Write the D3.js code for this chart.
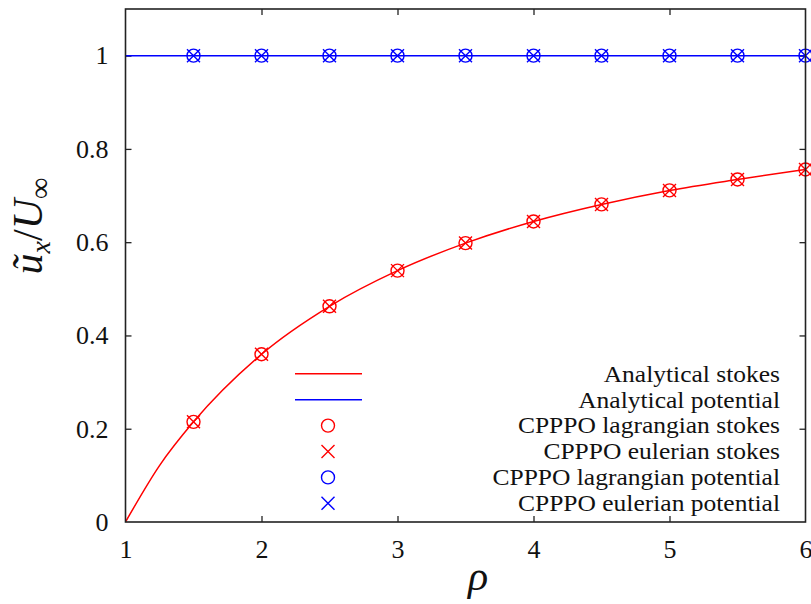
<!DOCTYPE html>
<html><head><meta charset="utf-8">
<script src="https://cdn.jsdelivr.net/npm/d3@7"></script>
<style>body{margin:0;background:#fff}svg{display:block}</style>
</head><body>
<script>
// ---- data ----
const curveRho = [1, 1.25, 1.5, 2, 2.5, 3, 3.5, 4, 4.5, 5, 5.5, 6];
const curveStokes = [0, 0.121, 0.2148, 0.3597, 0.4625, 0.539, 0.598, 0.6445, 0.681, 0.711, 0.7345, 0.756];
const potentialRho = [1, 6];
const potentialVal = [1, 1];
const markerRho = [1.5, 2, 2.5, 3, 3.5, 4, 4.5, 5, 5.5, 6];
const lagStokes = [0.2148, 0.3597, 0.4625, 0.539, 0.598, 0.6445, 0.681, 0.711, 0.7345, 0.756];
const eulStokes = [0.2148, 0.3597, 0.4625, 0.539, 0.598, 0.6445, 0.681, 0.711, 0.7345, 0.756];
const lagPot = [1, 1, 1, 1, 1, 1, 1, 1, 1, 1];
const eulPot = [1, 1, 1, 1, 1, 1, 1, 1, 1, 1];
const xTicks = [1, 2, 3, 4, 5, 6];
const yTicks = [0, 0.2, 0.4, 0.6, 0.8, 1];
const yTickLabels = ["0", "0.2", "0.4", "0.6", "0.8", "1"];
const legendLabels = ["Analytical stokes", "Analytical potential", "CPPPO lagrangian stokes",
  "CPPPO eulerian stokes", "CPPPO lagrangian potential", "CPPPO eulerian potential"];

// ---- layout ----
const W = 811, H = 604;
const L = 125.5, R = 805.5, T = 9, B = 522;
const RED = "#ff0000", BLUE = "#0000ff";
const FONT = "'Liberation Serif', 'Times New Roman', serif";

const svg = d3.select("body").append("svg").attr("width", W).attr("height", H);
const x = d3.scaleLinear().domain([1, 6]).range([L, R]);
const y = d3.scaleLinear().domain([0, 1.1]).range([B, T]);

// axes with inward ticks on all sides
const tl = 6;
const gB = svg.append("g").attr("transform", `translate(0,${B})`)
  .call(d3.axisBottom(x).tickValues(xTicks).tickSize(-tl).tickPadding(tl + 12).tickFormat(d3.format("d")));
const gT = svg.append("g").attr("transform", `translate(0,${T})`)
  .call(d3.axisTop(x).tickValues(xTicks).tickSize(-tl).tickFormat(""));
const gL = svg.append("g").attr("transform", `translate(${L},0)`)
  .call(d3.axisLeft(y).tickValues(yTicks).tickSize(-tl).tickPadding(tl + 11).tickFormat((d, i) => yTickLabels[i]));
const gR = svg.append("g").attr("transform", `translate(${R},0)`)
  .call(d3.axisRight(y).tickValues(yTicks).tickSize(-tl).tickFormat(""));
[gB, gT, gL, gR].forEach(g => {
  g.select(".domain").remove();
  g.selectAll(".tick line").attr("stroke", "#222").attr("stroke-width", 1.3);
  g.selectAll("text").attr("font-family", FONT).attr("font-size", 26).attr("fill", "#111");
});
gB.selectAll(".tick").filter(d => d === 1 || d === 6).select("line").remove();
gT.selectAll(".tick").filter(d => d === 1 || d === 6).select("line").remove();
gL.selectAll(".tick").filter(d => d === 0).select("line").remove();
gR.selectAll(".tick").filter(d => d === 0).select("line").remove();

// clip
svg.append("clipPath").attr("id", "clip").append("rect")
  .attr("x", L).attr("y", T).attr("width", R - L).attr("height", B - T);
const plot = svg.append("g").attr("clip-path", "url(#clip)");

// lines
const line = d3.line().x(d => x(d[0])).y(d => y(d[1]));
plot.append("path").datum(d3.zip(curveRho, curveStokes))
  .attr("d", line.curve(d3.curveMonotoneX)).attr("fill", "none").attr("stroke", RED).attr("stroke-width", 1.5);
plot.append("path").datum(d3.zip(potentialRho, potentialVal))
  .attr("d", d3.line().x(d => x(d[0])).y(d => y(d[1]))).attr("fill", "none").attr("stroke", BLUE).attr("stroke-width", 1.5);

// markers
const CR = 6.5, XS = 6.5;
function circles(g, xs, ys, col) {
  g.selectAll(null).data(d3.zip(xs, ys)).join("circle")
    .attr("cx", d => x(d[0])).attr("cy", d => y(d[1])).attr("r", CR)
    .attr("fill", "none").attr("stroke", col).attr("stroke-width", 1.4);
}
function crosses(g, xs, ys, col) {
  g.selectAll(null).data(d3.zip(xs, ys)).join("path")
    .attr("d", d => { const cx = x(d[0]), cy = y(d[1]);
      return `M${cx - XS},${cy - XS}L${cx + XS},${cy + XS}M${cx - XS},${cy + XS}L${cx + XS},${cy - XS}`; })
    .attr("fill", "none").attr("stroke", col).attr("stroke-width", 1.4);
}
const mg = svg.append("g");
circles(mg, markerRho, lagStokes, RED);
crosses(mg, markerRho, eulStokes, RED);
circles(mg, markerRho, lagPot, BLUE);
crosses(mg, markerRho, eulPot, BLUE);

// frame
svg.append("rect").attr("x", L).attr("y", T).attr("width", R - L).attr("height", B - T)
  .attr("fill", "none").attr("stroke", "#222").attr("stroke-width", 1.6);

// legend
const lgY0 = 373.8, lgDy = 25.9, lgX1 = 295, lgX2 = 362, lgMx = 328, lgTx = 780;
const lg = svg.append("g");
legendLabels.forEach((t, i) => {
  const yy = lgY0 + i * lgDy;
  const tx = lg.append("text").attr("x", lgTx).attr("y", yy).attr("dy", "0.34em").attr("text-anchor", "end")
    .attr("font-family", FONT).attr("font-size", 25.5).attr("fill", "#111").text(t);
  const wFull = tx.node().getComputedTextLength();
  tx.attr("font-size", 23.2).attr("textLength", wFull).attr("lengthAdjust", "spacingAndGlyphs");
  const col = (i === 0 || i === 2 || i === 3) ? RED : BLUE;
  if (i < 2) {
    lg.append("line").attr("x1", lgX1).attr("x2", lgX2).attr("y1", yy).attr("y2", yy)
      .attr("stroke", col).attr("stroke-width", 1.5);
  } else if (i === 2 || i === 4) {
    lg.append("circle").attr("cx", lgMx).attr("cy", yy).attr("r", CR)
      .attr("fill", "none").attr("stroke", col).attr("stroke-width", 1.4);
  } else {
    lg.append("path").attr("d", `M${lgMx - XS},${yy - XS}L${lgMx + XS},${yy + XS}M${lgMx - XS},${yy + XS}L${lgMx + XS},${yy - XS}`)
      .attr("fill", "none").attr("stroke", col).attr("stroke-width", 1.4);
  }
});

// axis labels
svg.append("text").attr("x", 478).attr("y", 590).attr("text-anchor", "middle")
  .attr("font-family", FONT).attr("font-style", "italic").attr("font-size", 42).attr("fill", "#111").text("ρ");

const yl = svg.append("text").attr("transform", "translate(42,226) rotate(-90)").attr("text-anchor", "middle")
  .attr("font-family", FONT).attr("font-size", 42).attr("fill", "#111");
yl.append("tspan").attr("font-style", "italic").text("ũ");
yl.append("tspan").attr("font-style", "italic").attr("font-size", 28).attr("dy", 8).text("x");
yl.append("tspan").attr("dy", -8).text("/");
yl.append("tspan").attr("font-style", "italic").text("U");
yl.append("tspan").attr("font-size", 30).attr("dy", 8).text("∞");
</script>
</body></html>
